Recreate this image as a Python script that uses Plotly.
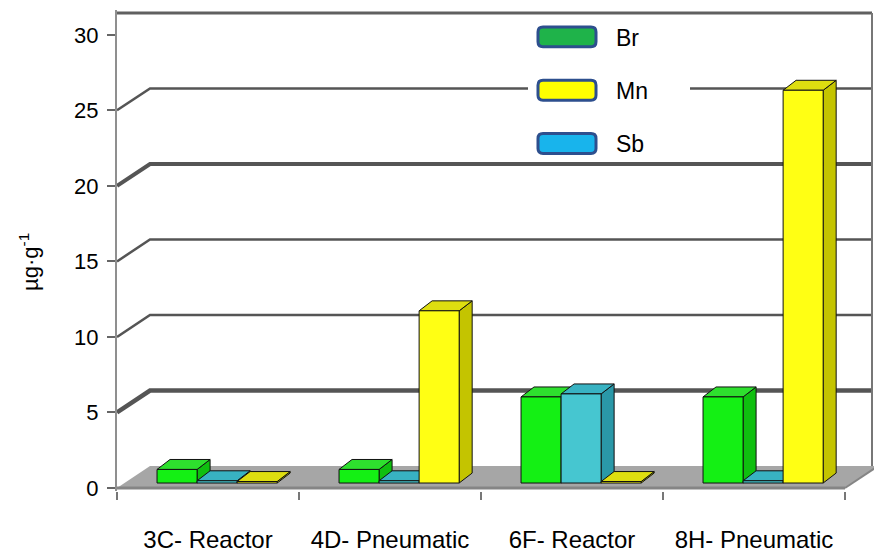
import plotly.graph_objects as go

# ---- data -------------------------------------------------------------
categories = ["3C- Reactor", "4D- Pneumatic", "6F- Reactor", "8H- Pneumatic"]
br_values = [0.9, 0.9, 5.7, 5.7]
sb_values = [0.15, 0.15, 5.9, 0.15]
mn_values = [0.1, 11.4, 0.1, 26.0]
y_tick_values = [0, 5, 10, 15, 20, 25, 30]
legend_names = ["Br", "Mn", "Sb"]

# ---- geometry of the pseudo-3D box ---------------------------------
W, H = 874, 553
M_L, M_R, M_T, M_B = 117, 0, 10, 60
PX_PER_CAT = 182.0
PX_PER_UNIT = 15.17
X_MIN = -0.5
X_MAX = X_MIN + (W - M_L - M_R) / PX_PER_CAT
Y_MIN = -3 / PX_PER_UNIT
Y_MAX = 480 / PX_PER_UNIT

BACK_DX = 33 / PX_PER_CAT       # offset of the back wall
BACK_DY = 22 / PX_PER_UNIT
RIGHT_WALL_X = 3.5 + 27 / PX_PER_CAT

BAR_W = 0.22
BAR_OFFSETS = [-0.17, 0.05, 0.27]
BAR_BASE = 5 / PX_PER_UNIT
DEPTH_DX = 13 / PX_PER_CAT
DEPTH_DY = 10 / PX_PER_UNIT

series = [
    ("Br", br_values, "#14f014", "#0fbf0f", "#2ee02e"),
    ("Sb", sb_values, "#46c6d0", "#2a98a8", "#38b2c2"),
    ("Mn", mn_values, "#ffff14", "#c4c400", "#dede10"),
]
legend_fill = {"Br": "#1fb34a", "Mn": "#ffff00", "Sb": "#18b4ec"}

FONT = "Liberation Sans, Arial, sans-serif"

fig = go.Figure()
shapes = []

# floor
floor = (f"M {X_MIN},0 L 3.5,0 L {3.5 + BACK_DX},{BACK_DY} "
         f"L {X_MIN + BACK_DX},{BACK_DY} Z")
shapes.append(dict(type="path", path=floor, xref="x", yref="y", layer="between",
                   fillcolor="#a6a6a6", line=dict(width=0)))
shapes.append(dict(type="line", x0=X_MIN, x1=3.5, y0=0, y1=0, xref="x", yref="y",
                   layer="between", line=dict(color="#858585", width=3)))
shapes.append(dict(type="line", x0=3.5, x1=3.5 + BACK_DX, y0=0, y1=BACK_DY,
                   xref="x", yref="y", layer="between",
                   line=dict(color="#858585", width=2)))

# back-wall gridlines with their diagonal links to the value axis
grid_widths = {5: 4.5, 10: 2.5, 15: 2.5, 20: 4, 25: 2.5}
for v in y_tick_values[1:-1]:
    path = (f"M {X_MIN},{v} L {X_MIN + BACK_DX},{v + BACK_DY} "
            f"L {RIGHT_WALL_X},{v + BACK_DY}")
    shapes.append(dict(type="path", path=path, xref="x", yref="y", layer="between",
                       line=dict(color="#555555", width=grid_widths[v])))
top_v = y_tick_values[-1] + BACK_DY
shapes.append(dict(type="line", x0=X_MIN, x1=RIGHT_WALL_X, y0=top_v, y1=top_v,
                   xref="x", yref="y", layer="between",
                   line=dict(color="#606060", width=3)))
shapes.append(dict(type="line", x0=RIGHT_WALL_X, x1=RIGHT_WALL_X, y0=BACK_DY, y1=top_v,
                   xref="x", yref="y", layer="between",
                   line=dict(color="#777777", width=2)))

# bars: front faces as bar traces, sides and tops as shapes under them
for (name, vals, c_front, c_side, c_top), off in zip(series, BAR_OFFSETS):
    xs = [i + off for i in range(len(categories))]
    fig.add_trace(go.Bar(
        x=xs, y=vals, base=BAR_BASE, width=BAR_W, name=name, showlegend=False,
        marker=dict(color=c_front, line=dict(color="#111111", width=1)),
        hovertext=categories, hoverinfo="text+y",
    ))
    for xc, v in zip(xs, vals):
        x0, x1 = xc - BAR_W / 2, xc + BAR_W / 2
        y0, y1 = BAR_BASE, BAR_BASE + v
        side = (f"M {x1},{y0} L {x1 + DEPTH_DX},{y0 + DEPTH_DY} "
                f"L {x1 + DEPTH_DX},{y1 + DEPTH_DY} L {x1},{y1} Z")
        top = (f"M {x0},{y1} L {x0 + DEPTH_DX},{y1 + DEPTH_DY} "
               f"L {x1 + DEPTH_DX},{y1 + DEPTH_DY} L {x1},{y1} Z")
        shapes.append(dict(type="path", path=side, xref="x", yref="y", layer="between",
                           fillcolor=c_side, line=dict(color="#111111", width=1)))
        shapes.append(dict(type="path", path=top, xref="x", yref="y", layer="between",
                           fillcolor=c_top, line=dict(color="#111111", width=1)))

# legend box drawn in pixel-based paper coordinates
PLOT_W = W - M_L - M_R
PLOT_H = H - M_T - M_B


def px(xp):
    return (xp - M_L) / PLOT_W


def py(yp):
    return (H - M_B - yp) / PLOT_H


def rounded_rect(x0, y0, x1, y1, r):
    pts = [
        f"M {px(x0 + r)},{py(y0)}", f"L {px(x1 - r)},{py(y0)}",
        f"Q {px(x1)},{py(y0)} {px(x1)},{py(y0 + r)}", f"L {px(x1)},{py(y1 - r)}",
        f"Q {px(x1)},{py(y1)} {px(x1 - r)},{py(y1)}", f"L {px(x0 + r)},{py(y1)}",
        f"Q {px(x0)},{py(y1)} {px(x0)},{py(y1 - r)}", f"L {px(x0)},{py(y0 + r)}",
        f"Q {px(x0)},{py(y0)} {px(x0 + r)},{py(y0)}", "Z",
    ]
    return " ".join(pts)


shapes.append(dict(type="rect", xref="paper", yref="paper", layer="above",
                   x0=px(528), x1=px(690), y0=py(158), y1=py(18),
                   fillcolor="white", line=dict(width=0)))
annotations = []
for k, name in enumerate(legend_names):
    cy = 37 + k * 53.5
    shapes.append(dict(type="path", xref="paper", yref="paper", layer="above",
                       path=rounded_rect(538, cy - 10, 596, cy + 10, 5),
                       fillcolor=legend_fill[name],
                       line=dict(color="#2d4f8e", width=3)))
    annotations.append(dict(x=px(614), y=py(cy + 1), xref="paper", yref="paper",
                            text=name, showarrow=False, xanchor="left", yanchor="middle",
                            font=dict(family=FONT, size=23, color="black")))

# value-axis title
annotations.append(dict(x=px(29), y=py(263), xref="paper", yref="paper",
                        text="µg·g<sup>-1</sup>", showarrow=False, textangle=-90,
                        xanchor="center", yanchor="middle",
                        font=dict(family=FONT, size=22, color="black")))

fig.update_layout(
    width=W, height=H,
    margin=dict(l=M_L, r=M_R, t=M_T, b=M_B, pad=0),
    paper_bgcolor="white", plot_bgcolor="white",
    barmode="overlay", showlegend=False,
    shapes=shapes, annotations=annotations,
    font=dict(family=FONT, color="black"),
    xaxis=dict(
        range=[X_MIN, X_MAX], showgrid=False, zeroline=False, showline=False,
        tickmode="array", tickvals=list(range(len(categories))), ticktext=categories,
        ticks="", ticklabelstandoff=32, tickfont=dict(family=FONT, size=24),
        minor=dict(tick0=0.5, dtick=1, ticks="outside", ticklen=8,
                   tickcolor="#777777", tickwidth=2, showgrid=False),
        fixedrange=True,
    ),
    yaxis=dict(
        range=[Y_MIN, Y_MAX], showgrid=False, zeroline=False,
        showline=True, linecolor="#8f8f8f", linewidth=2,
        tickmode="array", tickvals=y_tick_values,
        ticks="outside", ticklen=8, tickcolor="#666666", tickwidth=2,
        ticklabelstandoff=4, tickfont=dict(family=FONT, size=22),
        fixedrange=True,
    ),
)

fig.write_html("out.html")
